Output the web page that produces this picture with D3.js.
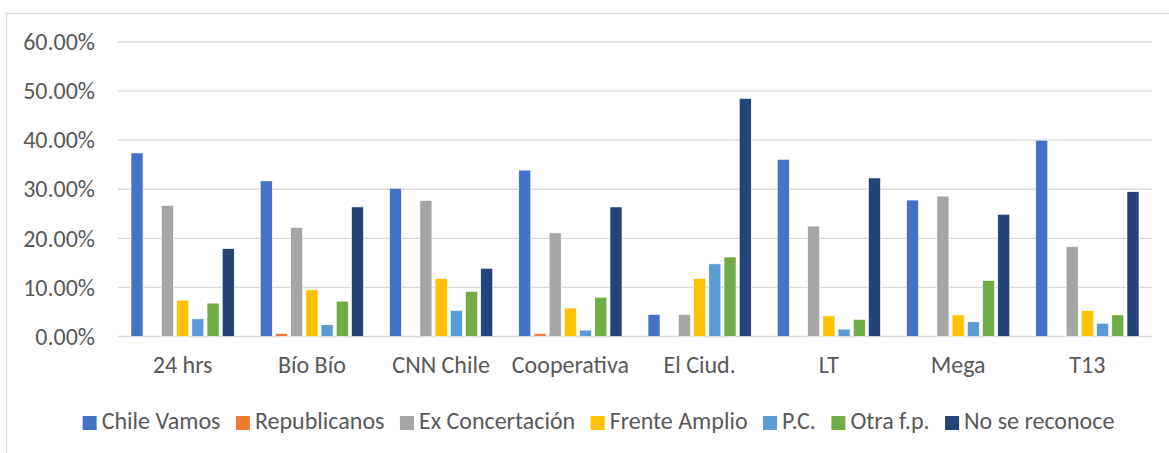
<!DOCTYPE html>
<html>
<head>
<meta charset="utf-8">
<script src="https://cdn.jsdelivr.net/npm/d3@7"></script>
<style>
  html, body { margin: 0; padding: 0; background: #fff; }
  svg { display: block; }
  text { font-family: Carlito, Lato, "Liberation Sans", sans-serif; fill: #595959; }
</style>
</head>
<body>
<svg id="chart" width="1169" height="453"></svg>
<script>
const categories = ["24 hrs", "Bío Bío", "CNN Chile", "Cooperativa", "El Ciud.", "LT", "Mega", "T13"];
const seriesNames = ["Chile Vamos", "Republicanos", "Ex Concertación", "Frente Amplio", "P.C.", "Otra f.p.", "No se reconoce"];
const seriesColors = ["#4472C4", "#ED7D31", "#A5A5A5", "#FFC000", "#5B9BD5", "#70AD47", "#264478"];
// values in percent, one array per series, ordered by categories
const chileVamos     = [37.4, 31.7, 30.2, 33.9, 4.5, 36.1, 27.8, 40.0];
const republicanos   = [0.0, 0.6, 0.0, 0.6, 0.0, 0.0, 0.0, 0.0];
const exConcertacion = [26.7, 22.2, 27.7, 21.1, 4.5, 22.5, 28.6, 18.3];
const frenteAmplio   = [7.4, 9.5, 11.8, 5.8, 11.8, 4.2, 4.4, 5.3];
const pc             = [3.6, 2.4, 5.3, 1.3, 14.8, 1.5, 3.0, 2.7];
const otraFp         = [6.8, 7.2, 9.2, 8.0, 16.2, 3.5, 11.4, 4.4];
const noSeReconoce   = [17.9, 26.4, 13.9, 26.4, 48.5, 32.3, 24.9, 29.5];
const yTicks = [0, 10, 20, 30, 40, 50, 60];

const seriesValues = [chileVamos, republicanos, exConcertacion, frenteAmplio, pc, otraFp, noSeReconoce];

const svg = d3.select("#chart");
const W = 1169, H = 453;
const plot = { left: 118, right: 1152, top: 42, bottom: 336.5 };
const FS = 24;
const FF = "Carlito, Lato, 'Liberation Sans', sans-serif";

// chart border
svg.append("rect")
  .attr("x", 6.5).attr("y", 13.5)
  .attr("width", W + 10).attr("height", H + 10)
  .attr("fill", "none").attr("stroke", "#D9D9D9").attr("stroke-width", 1.2);

const y = d3.scaleLinear().domain([0, 60]).range([plot.bottom, plot.top]);
const x0 = d3.scaleBand().domain(categories).range([plot.left, plot.right]).paddingInner(0).paddingOuter(0);
const x1 = d3.scaleBand().domain(seriesNames).range([0, x0.bandwidth()]).paddingInner(0.21).paddingOuter(0.855);

// gridlines
svg.append("g").selectAll("line").data(yTicks).join("line")
  .attr("x1", plot.left).attr("x2", plot.right)
  .attr("y1", d => y(d)).attr("y2", d => y(d))
  .attr("stroke", "#D9D9D9").attr("stroke-width", 1.4);

// y axis labels via d3 axis
const yAxis = svg.append("g").attr("transform", `translate(${plot.left},0)`)
  .call(d3.axisLeft(y).tickValues(yTicks).tickSize(0).tickPadding(23).tickFormat(d => d.toFixed(2) + "%"));
yAxis.select(".domain").remove();
yAxis.selectAll("text").style("font-size", FS + "px").attr("fill", "#595959").style("font-family", FF);

// x axis labels
const xAxis = svg.append("g").attr("transform", `translate(0,${plot.bottom})`)
  .call(d3.axisBottom(x0).tickSize(0).tickPadding(19));
xAxis.select(".domain").remove();
xAxis.selectAll("text").style("font-size", FS + "px").attr("fill", "#595959").style("font-family", FF);

// bars
const groups = svg.append("g").selectAll("g").data(categories).join("g")
  .attr("transform", d => `translate(${x0(d)},0)`);
groups.selectAll("rect")
  .data((c, ci) => seriesNames.map((s, si) => ({ s, si, v: seriesValues[si][ci] })))
  .join("rect")
  .filter(d => d.v > 0)
  .attr("x", d => x1(d.s))
  .attr("width", x1.bandwidth())
  .attr("y", d => y(d.v))
  .attr("height", d => y(0) - y(d.v))
  .attr("fill", d => seriesColors[d.si])
  .attr("stroke", "#fff").attr("stroke-width", 0.6);

// legend
const legend = svg.append("g");
const items = legend.selectAll("g").data(seriesNames).join("g");
items.append("rect").attr("width", 14).attr("height", 14).attr("y", -13)
  .attr("fill", (d, i) => seriesColors[i]);
items.append("text").attr("x", 19).attr("y", 0).style("font-size", FS + "px").style("font-family", FF).text(d => d);
let cx = 0;
const widths = [];
items.each(function () {
  widths.push(19 + this.querySelector("text").getComputedTextLength());
});
const gap = 15.5;
const total = d3.sum(widths) + gap * (widths.length - 1);
const startX = 598.5 - total / 2;
items.attr("transform", (d, i) => {
  const tx = startX + cx;
  cx += widths[i] + gap;
  return `translate(${tx},429)`;
});
</script>
</body>
</html>
